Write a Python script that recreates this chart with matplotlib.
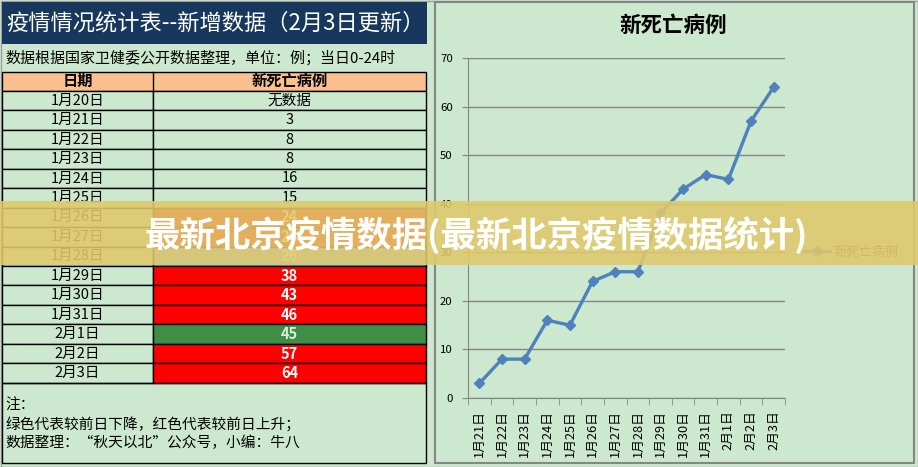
import matplotlib
matplotlib.use('Agg')
import matplotlib.pyplot as plt
from matplotlib.patches import Rectangle
import numpy as np

plt.rcParams['font.family'] = ['Noto Sans CJK SC', 'DejaVu Sans']

# ---------------- data ----------------
title_text = "疫情情况统计表--新增数据（2月3日更新）"
subtitle_text = "数据根据国家卫健委公开数据整理，单位：例；当日0-24时"
col_headers = ["日期", "新死亡病例"]
table_dates = ["1月20日", "1月21日", "1月22日", "1月23日", "1月24日", "1月25日",
               "1月26日", "1月27日", "1月28日", "1月29日", "1月30日", "1月31日",
               "2月1日", "2月2日", "2月3日"]
table_values = [None, 3, 8, 8, 16, 15, 24, 26, 26, 38, 43, 46, 45, 57, 64]
no_data_label = "无数据"
cell_status = ["", "", "", "", "", "", "up", "up", "same", "up", "up", "up",
               "down", "up", "up"]
notes = ["注：", "绿色代表较前日下降，红色代表较前日上升；",
         "数据整理：“秋天以北”公众号，小编：牛八"]

chart_title = "新死亡病例"
series_name = "新死亡病例"
chart_categories = ["1月21日", "1月22日", "1月23日", "1月24日", "1月25日",
                    "1月26日", "1月27日", "1月28日", "1月29日", "1月30日",
                    "1月31日", "2月1日", "2月2日", "2月3日"]
chart_values = [3, 8, 8, 16, 15, 24, 26, 26, 38, 43, 46, 45, 57, 64]
y_ticks = [0, 10, 20, 30, 40, 50, 60, 70]

banner_text = "最新北京疫情数据(最新北京疫情数据统计)"

# ---------------- styles ----------------
W, H = 918, 467
BG = '#CCE8CF'
NAVY = '#17375D'
HEAD = '#FBC08E'
STATUS_FILL = {"up": '#FF0000', "down": '#3E8E48', "same": '#8DB4E2', "": BG}
STATUS_TXT = {"up": 'white', "down": '#D8EED8', "same": 'white', "": 'black'}

fig = plt.figure(figsize=(W / 100, H / 100), dpi=100)
fig.patch.set_facecolor(BG)

bg = fig.add_axes([0, 0, 1, 1], zorder=0)
bg.set_xlim(0, W)
bg.set_ylim(H, 0)
bg.axis('off')

# outer border
bg.add_patch(Rectangle((0.5, 0.5), W - 1, H - 1, fc='none', ec='#A0A0A0', lw=1))

# title bar
bg.add_patch(Rectangle((2, 2), 425, 42, fc=NAVY, ec='none'))
bg.text(6, 23, title_text, color='white', fontsize=16, va='center', ha='left')

# subtitle
bg.text(5, 58, subtitle_text, color='black', fontsize=10.8, va='center', ha='left')

# table
x0, xm, x1 = 2, 153, 426
head_top, row_h = 71.5, 19.45
head_bot = head_top + row_h
bg.add_patch(Rectangle((x0, head_top), x1 - x0, row_h, fc=HEAD, ec='black', lw=1))
bg.plot([xm, xm], [head_top, head_bot], color='black', lw=1)
bg.text((x0 + xm) / 2, head_top + row_h / 2, col_headers[0], fontsize=11,
        weight='bold', ha='center', va='center')
bg.text((xm + x1) / 2, head_top + row_h / 2, col_headers[1], fontsize=11,
        weight='bold', ha='center', va='center')

for i, (d, v, s) in enumerate(zip(table_dates, table_values, cell_status)):
    top = head_bot + i * row_h
    bg.add_patch(Rectangle((x0, top), xm - x0, row_h, fc=BG, ec='black', lw=1))
    bg.add_patch(Rectangle((xm, top), x1 - xm, row_h, fc=STATUS_FILL[s],
                           ec='black', lw=1))
    cy = top + row_h / 2
    bg.text((x0 + xm) / 2, cy, d, fontsize=10.5, ha='center', va='center')
    label = no_data_label if v is None else str(v)
    bg.text((xm + x1) / 2, cy, label, fontsize=10.5, ha='center', va='center',
            color=STATUS_TXT[s], weight='bold' if s else 'normal')

table_bot = head_bot + len(table_dates) * row_h
bg.add_patch(Rectangle((x0, table_bot), x1 - x0, 463 - table_bot, fc='none',
                       ec='black', lw=1))
for j, t in enumerate(notes):
    bg.text(5, 406 + j * 18.5, t, fontsize=10.6, ha='left', va='center')

# chart panel border
bg.add_patch(Rectangle((435, 2), 479, 461, fc='none', ec='#868686', lw=1.5))

# chart title
fig.text(673 / W, 1 - 25 / H, chart_title, fontsize=15.5, weight='bold',
         ha='center', va='center')

# ---------------- line chart ----------------
ax = fig.add_axes([468 / W, 69 / H, 317 / W, 340 / H], zorder=5)
ax.set_facecolor('none')
x = np.arange(len(chart_categories))
ax.plot(x, chart_values, color='#4F81BD', lw=2.4, marker='D', ms=5.5,
        label=series_name, zorder=3)
ax.set_xlim(-0.5, len(chart_categories) - 0.5)
ax.set_ylim(y_ticks[0], y_ticks[-1])
ax.set_yticks(y_ticks)
ax.yaxis.grid(True, color='#868686', lw=1)
ax.set_axisbelow(True)
ax.set_xticks(x)
ax.set_xticklabels(chart_categories, rotation=90, fontsize=9.2)
ax.set_xticks(np.arange(-0.5, len(chart_categories), 1), minor=True)
ax.tick_params(axis='x', which='major', length=0, pad=9)
ax.tick_params(axis='x', which='minor', length=5, color='#868686')
ax.tick_params(axis='y', length=4, color='#868686', labelsize=8.2, pad=7)
for sp in ['top', 'right']:
    ax.spines[sp].set_visible(False)
for sp in ['left', 'bottom']:
    ax.spines[sp].set_color('#868686')

leg = ax.legend(loc='center left', bbox_to_anchor=(803 / W, 1 - 252 / H),
                bbox_transform=fig.transFigure, frameon=False, fontsize=9.4,
                handlelength=2.1, borderpad=0, borderaxespad=0, handletextpad=0.2)
for t in leg.get_texts():
    t.set_color('#404040')

# ---------------- banner overlay ----------------
ov = fig.add_axes([0, 0, 1, 1], zorder=10)
ov.set_xlim(0, W)
ov.set_ylim(H, 0)
ov.axis('off')
ov.patch.set_visible(False)
ov.add_patch(Rectangle((0, 201), W, 64, fc=(0.88, 0.79, 0.42), ec='none', alpha=0.88))
ov.text(476, 235, banner_text, color='white', fontsize=25.5, weight='bold',
        ha='center', va='center')

fig.savefig('out.png', dpi=100, facecolor=fig.get_facecolor())
